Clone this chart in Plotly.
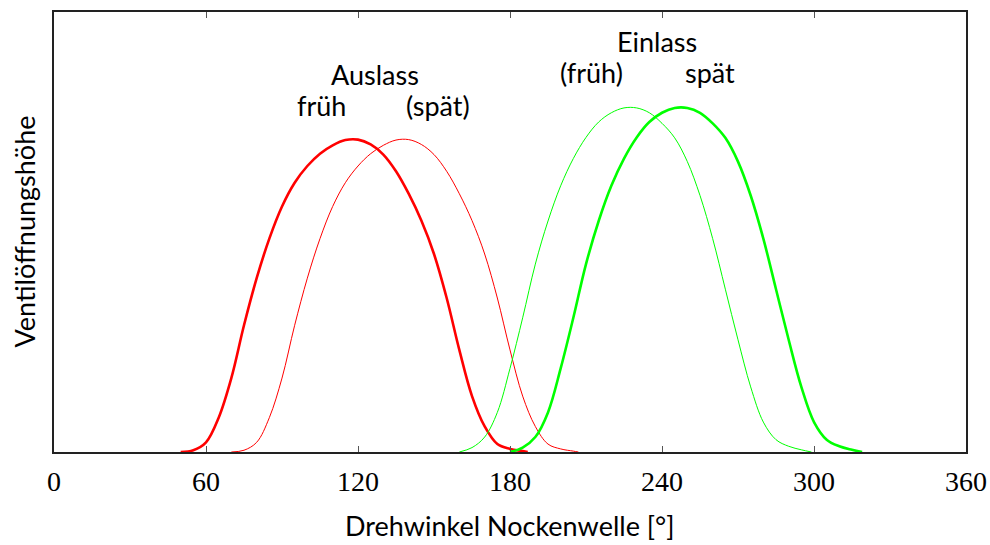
import plotly.graph_objects as go

# Valve lift over camshaft angle (lift in relative units, angle in degrees)
exhaust_early_deg = [50, 55, 60, 65, 70, 75, 80, 85, 90, 95, 100, 105, 110, 115,
                     120, 125, 130, 135, 140, 145, 150, 155, 160, 165, 170, 175, 180, 185, 187]
exhaust_early_lift = [0.0, 0.004, 0.022, 0.078, 0.168, 0.288, 0.395, 0.485, 0.558, 0.612, 0.650,
                      0.678, 0.697, 0.709, 0.710, 0.699, 0.676, 0.638, 0.587, 0.526,
                      0.450, 0.350, 0.232, 0.127, 0.058, 0.018, 0.007, 0.002, 0.0]

exhaust_late_deg = [70, 75, 80, 85, 90, 95, 100, 105, 110, 115, 120, 125, 130, 135,
                    140, 145, 150, 155, 160, 165, 170, 175, 180, 185, 190, 195, 200, 205, 207]
exhaust_late_lift = [0.0, 0.004, 0.022, 0.078, 0.168, 0.288, 0.395, 0.485, 0.558, 0.612, 0.650,
                     0.678, 0.697, 0.709, 0.710, 0.699, 0.676, 0.638, 0.587, 0.526,
                     0.450, 0.350, 0.232, 0.127, 0.058, 0.018, 0.007, 0.002, 0.0]

intake_early_deg = [160, 165, 170, 175, 180, 185, 190, 195, 200, 205, 210, 215, 220, 225,
                    230, 235, 240, 245, 250, 255, 260, 265, 270, 275, 280, 285, 290, 295, 299]
intake_early_lift = [0.0, 0.010, 0.034, 0.090, 0.190, 0.305, 0.427, 0.525, 0.605, 0.667, 0.715,
                     0.750, 0.771, 0.782, 0.782, 0.771, 0.747, 0.714, 0.660, 0.583,
                     0.485, 0.370, 0.255, 0.148, 0.068, 0.028, 0.013, 0.005, 0.0]

intake_late_deg = [180, 185, 190, 195, 200, 205, 210, 215, 220, 225, 230, 235, 240, 245,
                   250, 255, 260, 265, 270, 275, 280, 285, 290, 295, 300, 305, 310, 315, 319]
intake_late_lift = [0.0, 0.010, 0.034, 0.090, 0.190, 0.305, 0.427, 0.525, 0.605, 0.667, 0.715,
                    0.750, 0.771, 0.782, 0.782, 0.771, 0.747, 0.714, 0.660, 0.583,
                    0.485, 0.370, 0.255, 0.148, 0.068, 0.028, 0.013, 0.005, 0.0]

x_ticks = [0, 60, 120, 180, 240, 300, 360]

RED = "#ff0000"
GREEN = "#00ff00"
SANS = "Lato, 'Open Sans', sans-serif"
SERIF = "'Liberation Serif', serif"

fig = go.Figure()


def add_curve(xs, ys, color, width):
    fig.add_trace(go.Scatter(
        x=xs, y=ys, mode="lines",
        line=dict(color=color, width=width, shape="spline", smoothing=1.0),
        hoverinfo="skip", showlegend=False,
    ))


add_curve(exhaust_late_deg, exhaust_late_lift, RED, 1.0)
add_curve(exhaust_early_deg, exhaust_early_lift, RED, 2.6)
add_curve(intake_early_deg, intake_early_lift, GREEN, 1.0)
add_curve(intake_late_deg, intake_late_lift, GREEN, 2.6)

# Curve labels, placed by pixel column and lift height
labels = [
    ("Auslass", 375, 0.857),
    ("früh", 321.5, 0.787),
    ("(spät)", 437.5, 0.787),
    ("Einlass", 656.5, 0.932),
    ("(früh)", 591.5, 0.862),
    ("spät", 709.5, 0.862),
]
px_per_deg = (966 - 54) / 360.0
for text, xpx, yv in labels:
    fig.add_annotation(
        x=(xpx - 54) / px_per_deg, y=yv, xref="x", yref="y",
        text=text, showarrow=False, xanchor="center", yanchor="middle",
        font=dict(family=SANS, size=27, color="#000000"),
    )

fig.add_annotation(
    x=0.5, y=0, xref="paper", yref="paper", xanchor="center", yanchor="top",
    yshift=-55, text="Drehwinkel Nockenwelle [°]", showarrow=False,
    font=dict(family=SANS, size=27, color="#000000"),
)
fig.add_annotation(
    x=0, y=0.5, xref="paper", yref="paper", xanchor="right", yanchor="middle",
    xshift=-12, textangle=-90, text="Ventilöffnungshöhe", showarrow=False,
    font=dict(family=SANS, size=27, color="#000000"),
)

fig.update_xaxes(
    range=[0, 360], tickvals=x_ticks, ticktext=[str(v) for v in x_ticks],
    ticks="inside", ticklen=6, tickwidth=1, tickcolor="#555555",
    showline=True, linecolor="#222222", linewidth=1.6, mirror="allticks",
    showgrid=False, zeroline=False, ticklabelstandoff=4, automargin=False,
    tickfont=dict(family=SERIF, size=28, color="#000000"),
)
fig.update_yaxes(
    range=[0, 1], showticklabels=False, ticks="", automargin=False,
    showline=True, linecolor="#222222", linewidth=1.6, mirror=True,
    showgrid=False, zeroline=False,
)
fig.update_layout(
    width=990, height=545,
    margin=dict(l=54, r=24, t=12, b=93, autoexpand=False),
    paper_bgcolor="#ffffff", plot_bgcolor="#ffffff",
)

fig.write_html("out.html")
